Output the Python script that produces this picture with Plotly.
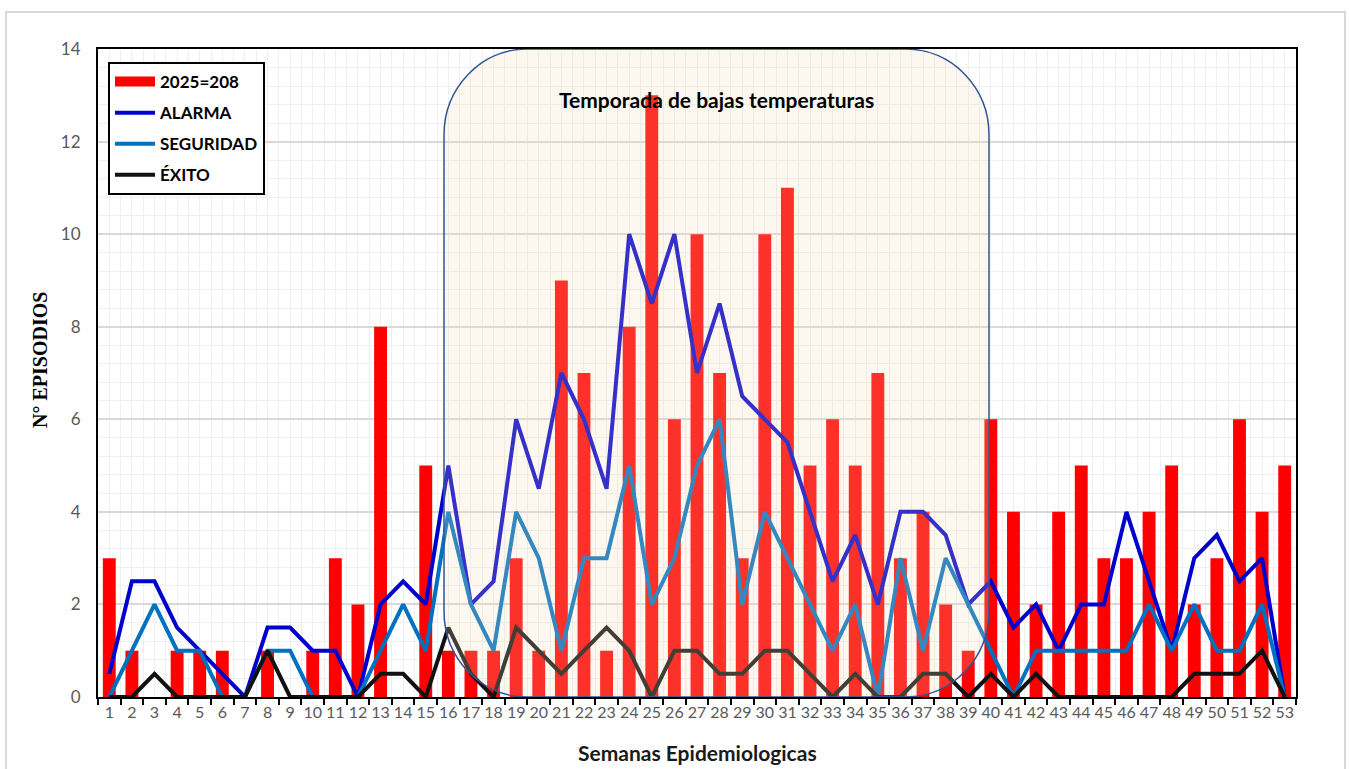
import plotly.graph_objects as go

# ---------------- data ----------------
weeks = list(range(1, 54))
week_labels = [str(w) for w in weeks]

casos_2025 = [3, 1, 0, 1, 1, 1, 0, 1, 0, 1,
              3, 2, 8, 0, 5, 1, 1, 1, 3, 1,
              9, 7, 1, 8, 13, 6, 10, 7, 3, 10,
              11, 5, 6, 5, 7, 3, 4, 2, 1, 6,
              4, 2, 4, 5, 3, 3, 4, 5, 2, 3,
              6, 4, 5]

alarma = [0.5, 2.5, 2.5, 1.5, 1, 0.5, 0, 1.5, 1.5, 1,
          1, 0, 2, 2.5, 2, 5, 2, 2.5, 6, 4.5,
          7, 6, 4.5, 10, 8.5, 10, 7, 8.5, 6.5, 6,
          5.5, 4, 2.5, 3.5, 2, 4, 4, 3.5, 2, 2.5,
          1.5, 2, 1, 2, 2, 4, 2.5, 1, 3, 3.5,
          2.5, 3, 0]

seguridad = [0, 1, 2, 1, 1, 0, 0, 1, 1, 0,
             0, 0, 1, 2, 1, 4, 2, 1, 4, 3,
             1, 3, 3, 5, 2, 3, 5, 6, 2, 4,
             3, 2, 1, 2, 0, 3, 1, 3, 2, 1,
             0, 1, 1, 1, 1, 1, 2, 1, 2, 1,
             1, 2, 0]

exito = [0, 0, 0.5, 0, 0, 0, 0, 1, 0, 0,
         0, 0, 0.5, 0.5, 0, 1.5, 0.5, 0, 1.5, 1,
         0.5, 1, 1.5, 1, 0, 1, 1, 0.5, 0.5, 1,
         1, 0.5, 0, 0.5, 0, 0, 0.5, 0.5, 0, 0.5,
         0, 0.5, 0, 0, 0, 0, 0, 0, 0.5, 0.5,
         0.5, 1, 0]

total_label = "2025=" + str(sum(casos_2025))
season_title = "Temporada de bajas temperaturas"

# ---------------- figure ----------------
W, H = 1349, 769
ML, MR, MT, MB = 98, 53, 49, 72
plot_w = W - ML - MR
plot_h = H - MT - MB

FONT = "Lato, 'Open Sans', sans-serif"
RED = "#FF0000"

fig = go.Figure()

fig.add_trace(go.Bar(
    x=weeks, y=casos_2025, name=total_label,
    marker=dict(color=RED, line=dict(width=0)),
    legendgroup="a", showlegend=False,
))
# legend-only entry drawn as a wide red swatch
fig.add_trace(go.Scatter(
    x=[None], y=[None], name=total_label, mode="lines",
    line=dict(color=RED, width=11), legendgroup="a",
))
fig.add_trace(go.Scatter(
    x=weeks, y=alarma, name="ALARMA", mode="lines",
    line=dict(color="#0000CC", width=4), legendgroup="b",
))
fig.add_trace(go.Scatter(
    x=weeks, y=seguridad, name="SEGURIDAD", mode="lines",
    line=dict(color="#0070C0", width=4), legendgroup="c",
))
fig.add_trace(go.Scatter(
    x=weeks, y=exito, name="ÉXITO", mode="lines",
    line=dict(color="#111111", width=4), legendgroup="d",
))

# rounded rectangle for the cold season (data coords)
x_per_px = 53 / plot_w
y_per_px = 14 / plot_h
sx0 = 0.5 + (444 - ML) * x_per_px
sx1 = 0.5 + (989 - ML) * x_per_px
sy0, sy1 = 0, 14
rx = 83 * x_per_px
ry = 86 * y_per_px
k = 0.5523
path = (
    f"M {sx0+rx},{sy1} L {sx1-rx},{sy1} "
    f"C {sx1-rx+k*rx},{sy1} {sx1},{sy1-ry+k*ry} {sx1},{sy1-ry} "
    f"L {sx1},{sy0+ry} "
    f"C {sx1},{sy0+ry-k*ry} {sx1-rx+k*rx},{sy0} {sx1-rx},{sy0} "
    f"L {sx0+rx},{sy0} "
    f"C {sx0+rx-k*rx},{sy0} {sx0},{sy0+ry-k*ry} {sx0},{sy0+ry} "
    f"L {sx0},{sy1-ry} "
    f"C {sx0},{sy1-ry+k*ry} {sx0+rx-k*rx},{sy1} {sx0+rx},{sy1} Z"
)
fig.add_shape(type="path", path=path, xref="x", yref="y", layer="above",
              fillcolor="rgba(240,225,185,0.22)",
              line=dict(color="#2F5597", width=1.5))

# outer chart border
def px2paper_x(px):
    return (px - ML) / plot_w

def px2paper_y(py):
    return (H - MB - py) / plot_h

fig.add_shape(type="rect", xref="paper", yref="paper",
              x0=px2paper_x(6), x1=px2paper_x(1345),
              y0=px2paper_y(800), y1=px2paper_y(12),
              line=dict(color="#D9D9D9", width=2), fillcolor="rgba(0,0,0,0)",
              layer="below")

fig.add_annotation(
    x=0.5 + (716 - ML) * x_per_px, y=(H - MB - 99) * y_per_px,
    xref="x", yref="y", text="<b>" + season_title + "</b>",
    showarrow=False, font=dict(family=FONT, size=21, color="#000000"),
    xanchor="center", yanchor="middle",
)
fig.add_annotation(
    x=0.5, y=px2paper_y(752), xref="paper", yref="paper",
    text="<b>Semanas Epidemiologicas</b>", showarrow=False,
    font=dict(family=FONT, size=21, color="#1a1a1a"),
    xanchor="center", yanchor="middle",
)
fig.add_annotation(
    x=px2paper_x(40), y=px2paper_y(360), xref="paper", yref="paper",
    text="<b>N° EPISODIOS</b>", showarrow=False, textangle=-90,
    font=dict(family="'Liberation Serif', 'Times New Roman', serif", size=20, color="#000000"),
    xanchor="center", yanchor="middle",
)

fig.update_layout(
    width=W, height=H,
    margin=dict(l=ML, r=MR, t=MT, b=MB, pad=0),
    paper_bgcolor="white", plot_bgcolor="white",
    bargap=0.43,
    showlegend=True,
    legend=dict(
        x=px2paper_x(108), y=px2paper_y(62), xanchor="left", yanchor="top",
        bgcolor="white", bordercolor="#000000", borderwidth=2,
        font=dict(family=FONT, size=17, color="#000000", weight="bold"),
        tracegroupgap=6, itemwidth=40,
    ),
    xaxis=dict(
        range=[0.5, 53.5],
        tickmode="array", tickvals=weeks, ticktext=week_labels,
        ticks="", showgrid=True, gridcolor="#EFEFEF", gridwidth=1,
        tickfont=dict(family=FONT, size=16, color="#595959"),
        showline=True, linecolor="#000000", linewidth=2, mirror=True,
        zeroline=False,
        minor=dict(tick0=0.5, dtick=1, ticks="outside", ticklen=6,
                   tickcolor="#000000", tickwidth=1.5,
                   showgrid=True, gridcolor="#EFEFEF", gridwidth=1),
    ),
    yaxis=dict(
        range=[0, 14], tick0=0, dtick=2,
        showgrid=True, gridcolor="#D9D9D9", gridwidth=1.5,
        tickfont=dict(family=FONT, size=17, color="#595959"),
        ticklabelstandoff=12,
        showline=True, linecolor="#000000", linewidth=2, mirror=True,
        zeroline=False,
        minor=dict(tick0=0, dtick=0.4, showgrid=True, gridcolor="#F0F0F0", gridwidth=1),
    ),
)

fig.write_html("out.html")
